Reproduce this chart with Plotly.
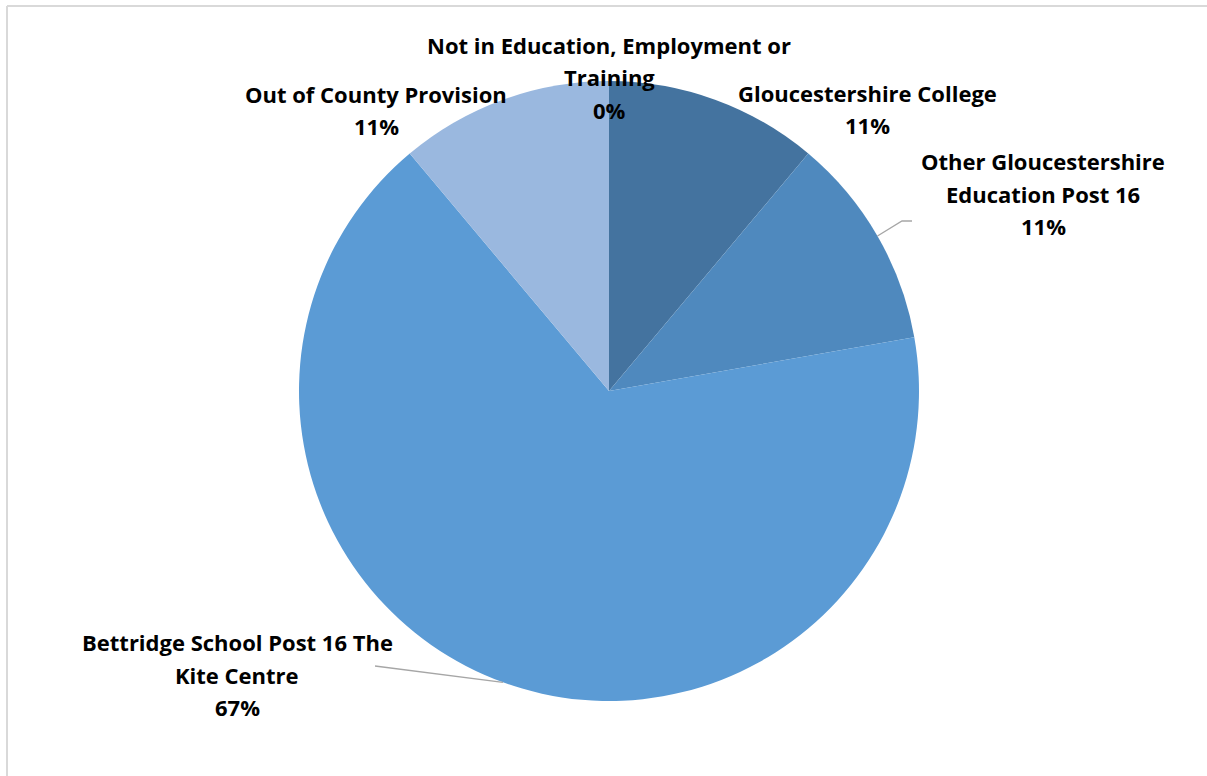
import math
import plotly.graph_objects as go

W, H = 1207, 776

categories = ["Gloucestershire College", "Other Gloucestershire Education Post 16",
              "Bettridge School Post 16 The Kite Centre", "Out of County Provision",
              "Not in Education, Employment or Training"]
values = [1, 1, 6, 1, 0]
colors = ["#44739F", "#4F89BE", "#5B9BD5", "#9AB8DF", "#A5A5A5"]

# label line breaks as shown in the chart
label_lines = [
    ["Gloucestershire College"],
    ["Other Gloucestershire", "Education Post 16"],
    ["Bettridge School Post 16 The", "Kite Centre"],
    ["Out of County Provision"],
    ["Not in Education, Employment or", "Training"],
]
# label block placement (pixel centre x, first line centre y)
label_pos = [(867, 93), (1043, 161), (237, 642), (376, 94), (609, 45)]
leader = [False, True, True, False, False]
leader_end = [None, [(902, 221), (912, 221)], [(375, 666)], None, None]

cx, cy, R = 609, 391, 310
LINE_H = 32.5

fig = go.Figure(go.Pie(
    labels=categories, values=values, sort=False, direction="clockwise",
    rotation=0, textinfo="none", hoverinfo="label+percent",
    marker=dict(colors=colors, line=dict(width=0)),
    domain=dict(x=[(cx - R) / W, (cx + R) / W],
                y=[(H - cy - R) / H, (H - cy + R) / H]),
    showlegend=False,
))

total = sum(values)
pct = [round(100 * v / total) for v in values]

def px(x):
    return x / W

def py(y):
    return 1 - y / H

annotations = []
shapes = []
start = 0.0
for i, v in enumerate(values):
    frac = v / total
    mid = (start + frac / 2) * 2 * math.pi
    start += frac
    lx, ly = label_pos[i]
    lines = label_lines[i] + [f"{pct[i]}%"]
    for k, t in enumerate(lines):
        annotations.append(dict(
            x=px(lx), y=py(ly + k * LINE_H), xref="paper", yref="paper",
            text=t, showarrow=False, xanchor="center", yanchor="middle",
            font=dict(family="Open Sans", size=22, color="#000000", weight="bold"),
        ))
    if leader[i]:
        ex = cx + R * math.sin(mid)
        ey = cy - R * math.cos(mid)
        pts = [(ex, ey)] + leader_end[i]
        path = "M " + " L ".join(f"{px(a)},{py(b)}" for a, b in pts)
        shapes.append(dict(type="path", xref="paper", yref="paper", path=path,
                           line=dict(color="#A6A6A6", width=1.3)))

# chart area border (top and left edges visible)
shapes.append(dict(type="line", xref="paper", yref="paper",
                   x0=px(7), x1=1, y0=py(6), y1=py(6),
                   line=dict(color="#D9D9D9", width=2), layer="below"))
shapes.append(dict(type="line", xref="paper", yref="paper",
                   x0=px(7), x1=px(7), y0=py(6), y1=0,
                   line=dict(color="#D9D9D9", width=2), layer="below"))

fig.update_layout(
    width=W, height=H, margin=dict(l=0, r=0, t=0, b=0),
    paper_bgcolor="white", plot_bgcolor="white",
    annotations=annotations, shapes=shapes,
)

fig.write_html("out.html", config={"displayModeBar": False},
               post_script="document.body.style.margin='0px';")
